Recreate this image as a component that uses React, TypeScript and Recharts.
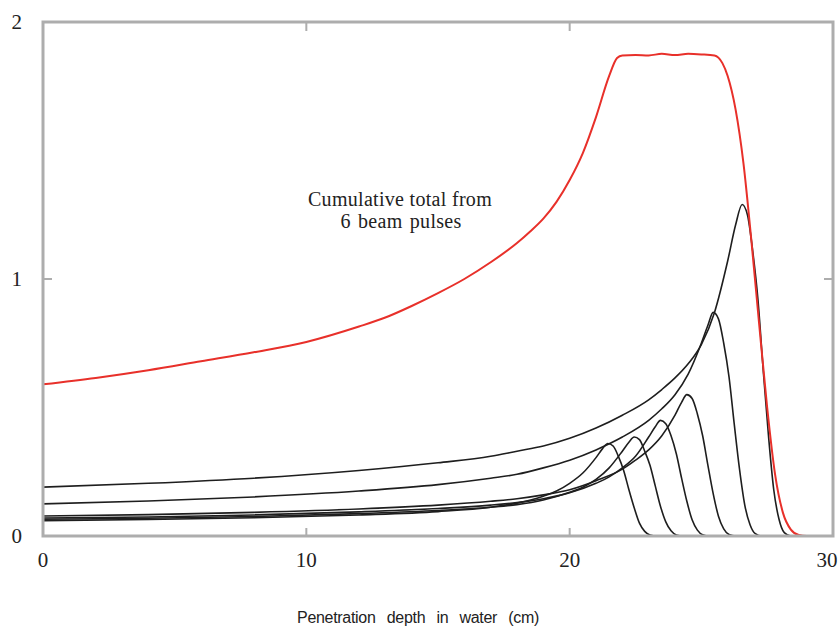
import React from "react";
import { LineChart, Line, XAxis, YAxis } from "recharts";

// depth (cm) vs relative dose
const xTicks = [0, 10, 20, 30];
const yTicks = [0, 1, 2];
const topTicks = [10, 20];
const rightTicks = [1];

const pulse1 = [
  { x: 0, y: 0.06 }, { x: 4, y: 0.064 }, { x: 8, y: 0.071 }, { x: 12, y: 0.082 },
  { x: 15, y: 0.095 }, { x: 17, y: 0.112 }, { x: 18, y: 0.128 }, { x: 19, y: 0.155 },
  { x: 19.5, y: 0.175 }, { x: 20, y: 0.205 }, { x: 20.5, y: 0.245 }, { x: 21, y: 0.305 },
  { x: 21.25, y: 0.34 }, { x: 21.45, y: 0.36 }, { x: 21.65, y: 0.35 }, { x: 21.85, y: 0.31 },
  { x: 22.05, y: 0.255 }, { x: 22.25, y: 0.18 }, { x: 22.45, y: 0.11 }, { x: 22.65, y: 0.05 },
  { x: 22.85, y: 0.018 }, { x: 23.05, y: 0.004 }, { x: 23.3, y: 0 }, { x: 30, y: 0 },
];

const pulse2 = [
  { x: 0, y: 0.065 }, { x: 4, y: 0.069 }, { x: 8, y: 0.076 }, { x: 12, y: 0.087 },
  { x: 15, y: 0.099 }, { x: 17, y: 0.112 }, { x: 18, y: 0.122 }, { x: 19, y: 0.14 },
  { x: 20, y: 0.17 }, { x: 20.5, y: 0.19 }, { x: 21, y: 0.22 }, { x: 21.5, y: 0.265 },
  { x: 22, y: 0.33 }, { x: 22.25, y: 0.365 }, { x: 22.45, y: 0.385 }, { x: 22.65, y: 0.375 },
  { x: 22.85, y: 0.33 }, { x: 23.05, y: 0.275 }, { x: 23.25, y: 0.195 }, { x: 23.45, y: 0.115 },
  { x: 23.65, y: 0.055 }, { x: 23.85, y: 0.02 }, { x: 24.05, y: 0.004 }, { x: 24.3, y: 0 },
  { x: 30, y: 0 },
];

const pulse3 = [
  { x: 0, y: 0.07 }, { x: 4, y: 0.074 }, { x: 8, y: 0.082 }, { x: 12, y: 0.094 },
  { x: 15, y: 0.107 }, { x: 17, y: 0.12 }, { x: 18, y: 0.13 }, { x: 19, y: 0.145 },
  { x: 20, y: 0.168 }, { x: 21, y: 0.205 }, { x: 21.5, y: 0.23 }, { x: 22, y: 0.265 },
  { x: 22.5, y: 0.31 }, { x: 23, y: 0.385 }, { x: 23.25, y: 0.425 }, { x: 23.45, y: 0.45 },
  { x: 23.65, y: 0.437 }, { x: 23.85, y: 0.39 }, { x: 24.05, y: 0.32 }, { x: 24.25, y: 0.225 },
  { x: 24.45, y: 0.135 }, { x: 24.65, y: 0.063 }, { x: 24.85, y: 0.023 }, { x: 25.05, y: 0.005 },
  { x: 25.3, y: 0 }, { x: 30, y: 0 },
];

const pulse4 = [
  { x: 0, y: 0.078 }, { x: 4, y: 0.083 }, { x: 8, y: 0.092 }, { x: 12, y: 0.105 },
  { x: 15, y: 0.12 }, { x: 17, y: 0.135 }, { x: 18, y: 0.145 }, { x: 19, y: 0.16 },
  { x: 20, y: 0.18 }, { x: 21, y: 0.215 }, { x: 22, y: 0.26 }, { x: 22.5, y: 0.295 },
  { x: 23, y: 0.335 }, { x: 23.5, y: 0.39 }, { x: 24, y: 0.47 }, { x: 24.25, y: 0.52 },
  { x: 24.45, y: 0.55 }, { x: 24.65, y: 0.535 }, { x: 24.85, y: 0.475 }, { x: 25.05, y: 0.39 },
  { x: 25.25, y: 0.275 }, { x: 25.45, y: 0.165 }, { x: 25.65, y: 0.077 }, { x: 25.85, y: 0.028 },
  { x: 26.05, y: 0.006 }, { x: 26.3, y: 0 }, { x: 30, y: 0 },
];

const pulse5 = [
  { x: 0, y: 0.125 }, { x: 4, y: 0.136 }, { x: 8, y: 0.152 }, { x: 12, y: 0.175 },
  { x: 15, y: 0.2 }, { x: 17, y: 0.225 }, { x: 18, y: 0.24 }, { x: 19, y: 0.265 },
  { x: 20, y: 0.295 }, { x: 21, y: 0.335 }, { x: 22, y: 0.385 }, { x: 23, y: 0.45 },
  { x: 23.5, y: 0.495 }, { x: 24, y: 0.55 }, { x: 24.5, y: 0.63 }, { x: 25, y: 0.75 },
  { x: 25.25, y: 0.82 }, { x: 25.45, y: 0.87 }, { x: 25.65, y: 0.845 }, { x: 25.85, y: 0.75 },
  { x: 26.05, y: 0.62 }, { x: 26.25, y: 0.435 }, { x: 26.45, y: 0.26 }, { x: 26.65, y: 0.12 },
  { x: 26.85, y: 0.044 }, { x: 27.05, y: 0.009 }, { x: 27.3, y: 0 }, { x: 30, y: 0 },
];

const pulse6 = [
  { x: 0, y: 0.19 }, { x: 4, y: 0.205 }, { x: 8, y: 0.225 }, { x: 12, y: 0.255 },
  { x: 15, y: 0.285 }, { x: 17, y: 0.31 }, { x: 18, y: 0.33 }, { x: 19, y: 0.35 },
  { x: 20, y: 0.38 }, { x: 21, y: 0.42 }, { x: 22, y: 0.47 }, { x: 23, y: 0.53 },
  { x: 23.5, y: 0.57 }, { x: 24, y: 0.615 }, { x: 24.5, y: 0.67 }, { x: 25, y: 0.745 },
  { x: 25.5, y: 0.87 }, { x: 26, y: 1.07 }, { x: 26.3, y: 1.21 }, { x: 26.55, y: 1.29 },
  { x: 26.75, y: 1.25 }, { x: 26.95, y: 1.11 }, { x: 27.15, y: 0.92 }, { x: 27.35, y: 0.645 },
  { x: 27.55, y: 0.39 }, { x: 27.75, y: 0.18 }, { x: 27.95, y: 0.065 }, { x: 28.15, y: 0.013 },
  { x: 28.4, y: 0 }, { x: 30, y: 0 },
];

const total = [
  { x: 0, y: 0.59 }, { x: 2, y: 0.615 }, { x: 4, y: 0.645 }, { x: 6, y: 0.68 },
  { x: 8, y: 0.715 }, { x: 10, y: 0.755 }, { x: 12, y: 0.815 }, { x: 13, y: 0.85 },
  { x: 14, y: 0.895 }, { x: 15, y: 0.945 }, { x: 16, y: 1.0 }, { x: 17, y: 1.065 },
  { x: 18, y: 1.14 }, { x: 18.5, y: 1.185 }, { x: 19, y: 1.235 }, { x: 19.5, y: 1.3 },
  { x: 20, y: 1.385 }, { x: 20.5, y: 1.49 }, { x: 21, y: 1.63 }, { x: 21.5, y: 1.79 },
  { x: 21.8, y: 1.86 }, { x: 22, y: 1.87 }, { x: 22.5, y: 1.872 }, { x: 23, y: 1.87 },
  { x: 23.5, y: 1.876 }, { x: 24, y: 1.872 }, { x: 24.5, y: 1.876 }, { x: 25, y: 1.874 },
  { x: 25.5, y: 1.87 }, { x: 25.8, y: 1.84 }, { x: 26, y: 1.79 }, { x: 26.3, y: 1.66 },
  { x: 26.6, y: 1.45 }, { x: 26.9, y: 1.15 }, { x: 27.2, y: 0.82 }, { x: 27.5, y: 0.5 },
  { x: 27.8, y: 0.24 }, { x: 28.1, y: 0.09 }, { x: 28.4, y: 0.025 }, { x: 28.7, y: 0.004 },
  { x: 29, y: 0 }, { x: 30, y: 0 },
];

const pulses = [pulse1, pulse2, pulse3, pulse4, pulse5, pulse6];

// plot box, follows from the chart size and margins below
const W = 839;
const H = 630;
const M = { top: 22, right: 6, bottom: 94, left: 43 };
const plotW = W - M.left - M.right;
const plotH = H - M.top - M.bottom;

const frame = "#adadad";
const tickFont = { fontFamily: "'Liberation Serif', serif", fontSize: 21, fill: "#222" };

function BottomTick({ x, y, payload }: any) {
  const v = payload.value;
  const inner = v !== 0 && v !== 30;
  return (
    <g>
      {inner && <line x1={x} x2={x} y1={y} y2={y - 8} stroke={frame} strokeWidth={2} />}
      <text x={v === 30 ? x - 6 : x} y={y + 31} textAnchor="middle" {...tickFont}>
        {v}
      </text>
    </g>
  );
}

function LeftTick({ x, y, payload }: any) {
  const v = payload.value;
  const inner = v === 1;
  return (
    <g>
      {inner && <line x1={x} x2={x + 9} y1={y} y2={y} stroke={frame} strokeWidth={2} />}
      <text x={x - 21} y={y + 7} textAnchor="end" {...tickFont}>
        {v}
      </text>
    </g>
  );
}

export default function App() {
  return (
    <div style={{ position: "absolute", left: 0, top: 0, width: W, height: H, background: "#fff" }}>
      <LineChart width={W} height={H} margin={{ top: M.top, right: M.right, bottom: 0, left: 0 }}>
        <XAxis
          type="number"
          dataKey="x"
          domain={[0, 30]}
          ticks={xTicks}
          interval={0}
          height={M.bottom}
          tickSize={0}
          tickMargin={0}
          tickLine={false}
          tick={<BottomTick />}
          axisLine={false}
        />
        <YAxis
          type="number"
          dataKey="y"
          domain={[0, 2]}
          ticks={yTicks}
          interval={0}
          width={M.left}
          tickSize={0}
          tickMargin={0}
          tickLine={false}
          tick={<LeftTick />}
          axisLine={false}
        />
        {pulses.map((d, i) => (
          <Line
            key={i}
            data={d}
            dataKey="y"
            type="monotone"
            stroke="#1e1e1e"
            strokeWidth={1.6}
            dot={false}
            isAnimationActive={false}
          />
        ))}
        <Line
          data={total}
          dataKey="y"
          type="monotone"
          stroke="#e8302a"
          strokeWidth={2}
          dot={false}
          isAnimationActive={false}
        />
      </LineChart>
      <svg
        width={W}
        height={H}
        style={{ position: "absolute", left: 0, top: 0, pointerEvents: "none" }}
      >
        {/* plot frame with inward ticks on top and right */}
        <rect x={M.left} y={M.top} width={plotW} height={plotH} fill="none" stroke={frame} strokeWidth={3} />
        {topTicks.map((t) => {
          const px = M.left + (plotW * t) / 30;
          return <line key={"t" + t} x1={px} x2={px} y1={M.top} y2={M.top + 9} stroke={frame} strokeWidth={2} />;
        })}
        {rightTicks.map((t) => {
          const py = M.top + plotH * (1 - t / 2);
          return <line key={"r" + t} x1={W - M.right} x2={W - M.right - 9} y1={py} y2={py} stroke={frame} strokeWidth={2} />;
        })}
        <g fontFamily="'Liberation Serif', serif" fontSize={20} fill="#222" textAnchor="middle" letterSpacing={0.3}>
          <text x={400} y={206}>Cumulative total from</text>
          <text x={401} y={228} wordSpacing={2}>6 beam pulses</text>
        </g>
        <text
          x={418}
          y={623}
          textAnchor="middle"
          fontFamily="'Liberation Sans', Arial, sans-serif"
          fontSize={16}
          wordSpacing={7}
          letterSpacing={-0.3}
          fill="#222"
        >
          Penetration depth in water (cm)
        </text>
      </svg>
    </div>
  );
}
